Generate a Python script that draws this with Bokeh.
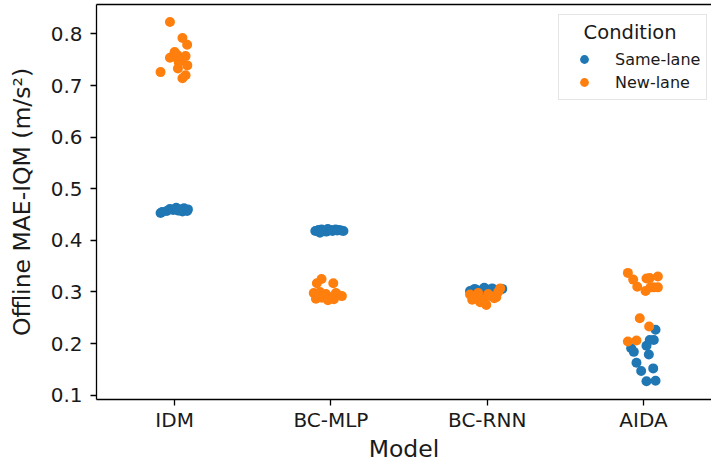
from bokeh.plotting import figure
from bokeh.models import ColumnDataSource, FixedTicker, LinearAxis, Legend, LegendItem, Range1d
from bokeh.embed import file_html
from bokeh.resources import INLINE

models = ["IDM", "BC-MLP", "BC-RNN", "AIDA"]
conditions = ["Same-lane", "New-lane"]
y_ticks = [0.1, 0.2, 0.3, 0.4, 0.5, 0.6, 0.7, 0.8]

# values (Offline MAE-IQM, m/s^2) and the strip jitter of each point
idm_same = [0.453, 0.455, 0.457, 0.461, 0.459, 0.463, 0.458, 0.460, 0.456, 0.462, 0.459, 0.457, 0.460, 0.458]
idm_same_jit = [-0.09, -0.08, -0.05, -0.03, -0.01, 0.01, 0.02, 0.04, 0.05, 0.06, 0.07, 0.08, 0.085, 0.03]
idm_new = [0.823, 0.792, 0.779, 0.765, 0.756, 0.759, 0.757, 0.749, 0.739, 0.733, 0.726, 0.720, 0.714, 0.754, 0.745]
idm_new_jit = [-0.03, 0.05, 0.08, 0.0, -0.015, 0.017, 0.07, 0.038, 0.081, 0.021, -0.09, 0.07, 0.05, -0.03, 0.026]

mlp_same = [0.418, 0.420, 0.421, 0.419, 0.417, 0.422, 0.420, 0.418, 0.421, 0.419, 0.420, 0.415, 0.419, 0.418]
mlp_same_jit = [-0.10, -0.08, -0.06, -0.05, -0.03, -0.02, 0.0, 0.01, 0.03, 0.04, 0.05, -0.07, 0.065, 0.08]
mlp_new = [0.325, 0.317, 0.317, 0.298, 0.292, 0.289, 0.296, 0.290, 0.286, 0.294, 0.292, 0.300, 0.284, 0.298, 0.287]
mlp_new_jit = [-0.06, -0.09, 0.015, -0.11, -0.08, -0.058, -0.032, -0.006, 0.019, 0.045, 0.07, -0.07, -0.019, 0.032, -0.096]

rnn_same = [0.302, 0.306, 0.303, 0.300, 0.305, 0.302, 0.299, 0.304, 0.306, 0.298, 0.308, 0.307]
rnn_same_jit = [-0.11, -0.08, -0.06, -0.03, -0.006, 0.019, 0.045, 0.07, 0.096, -0.07, -0.019, 0.032]
rnn_new = [0.295, 0.290, 0.298, 0.285, 0.275, 0.292, 0.288, 0.300, 0.307, 0.280, 0.296, 0.285, 0.290]
rnn_new_jit = [-0.11, -0.083, -0.058, -0.032, -0.006, 0.019, 0.045, 0.07, 0.083, -0.045, 0.006, -0.096, 0.058]

aida_same = [0.227, 0.207, 0.207, 0.196, 0.191, 0.184, 0.179, 0.163, 0.152, 0.147, 0.127, 0.128]
aida_same_jit = [0.077, 0.04, 0.066, 0.019, -0.079, -0.062, 0.034, -0.045, 0.062, -0.015, 0.019, 0.077]
aida_new = [0.337, 0.324, 0.310, 0.326, 0.327, 0.330, 0.302, 0.309, 0.309, 0.309, 0.249, 0.233, 0.204, 0.206]
aida_new_jit = [-0.100, -0.066, -0.040, 0.019, 0.040, 0.092, 0.013, 0.045, 0.092, 0.064, -0.024, 0.036, -0.100, -0.045]

same_vals = [idm_same, mlp_same, rnn_same, aida_same]
same_jits = [idm_same_jit, mlp_same_jit, rnn_same_jit, aida_same_jit]
new_vals = [idm_new, mlp_new, rnn_new, aida_new]
new_jits = [idm_new_jit, mlp_new_jit, rnn_new_jit, aida_new_jit]


def build(vals_list, jits_list):
    xs, ys = [], []
    for i, (vals, jits) in enumerate(zip(vals_list, jits_list)):
        for v, j in zip(vals, jits):
            xs.append(i + j)
            ys.append(v)
    return ColumnDataSource(dict(x=xs, y=ys))


src_same = build(same_vals, same_jits)
src_new = build(new_vals, new_jits)

FONT = "DejaVu Sans"

p = figure(width=711, height=465, output_backend="svg", toolbar_location=None,
           x_range=Range1d(-0.5, 3.435), y_range=Range1d(0.0917, 0.857),
           min_border_left=96, min_border_right=0, min_border_top=4, min_border_bottom=60)
p.outline_line_color = None
p.grid.visible = False
p.background_fill_color = "white"
p.border_fill_color = "white"

r_same = p.scatter("x", "y", source=src_same, size=10, color="#1f77b4", line_width=0)
r_new = p.scatter("x", "y", source=src_new, size=10, color="#ff7f0e", line_width=0)

xa = p.xaxis[0]
xa.ticker = FixedTicker(ticks=list(range(len(models))))
xa.major_label_overrides = {i: m for i, m in enumerate(models)}
xa.axis_label = "Model"
ya = p.yaxis[0]
ya.ticker = FixedTicker(ticks=y_ticks)
ya.axis_label = "Offline MAE-IQM (m/s²)"

for ax in (xa, ya):
    ax.minor_tick_line_color = None
    ax.major_tick_in = 0
    ax.major_tick_out = 6
    ax.major_tick_line_width = 1.3
    ax.axis_line_width = 1.3
    ax.axis_line_color = "black"
    ax.major_tick_line_color = "black"
    ax.major_label_text_font = FONT
    ax.major_label_text_font_size = "20px"
    ax.major_label_text_color = "#1a1a1a"
    ax.axis_label_text_font = FONT
    ax.axis_label_text_font_size = "23.5px"
    ax.axis_label_text_font_style = "normal"
    ax.axis_label_text_color = "#1a1a1a"
ya.major_label_standoff = 8
ya.axis_label_standoff = 12
xa.major_label_standoff = 2
xa.axis_label_standoff = 0

top = LinearAxis(ticker=FixedTicker(ticks=[]), major_tick_out=0, major_tick_in=0,
                 major_label_standoff=0, minor_tick_line_color=None,
                 axis_line_width=1.3, axis_line_color="black")
p.add_layout(top, "above")

legend = Legend(items=[LegendItem(label=conditions[0], renderers=[r_same]),
                       LegendItem(label=conditions[1], renderers=[r_new])],
                location=(462, 299), title="\u00a0\u00a0\u00a0Condition")
legend.title_text_font = FONT
legend.title_text_font_size = "19.5px"
legend.title_text_font_style = "normal"
legend.title_text_color = "#1a1a1a"
legend.label_text_font = FONT
legend.label_text_font_size = "16px"
legend.label_text_color = "#1a1a1a"
legend.border_line_color = "#cccccc"
legend.border_line_width = 1
legend.background_fill_alpha = 0.8
legend.padding = 6
legend.glyph_width = 38
legend.glyph_height = 22
legend.label_standoff = 12
legend.spacing = 1
legend.margin = 0
legend.title_standoff = 4
p.add_layout(legend, "center")

open("out.html", "w").write(file_html(p, INLINE))
